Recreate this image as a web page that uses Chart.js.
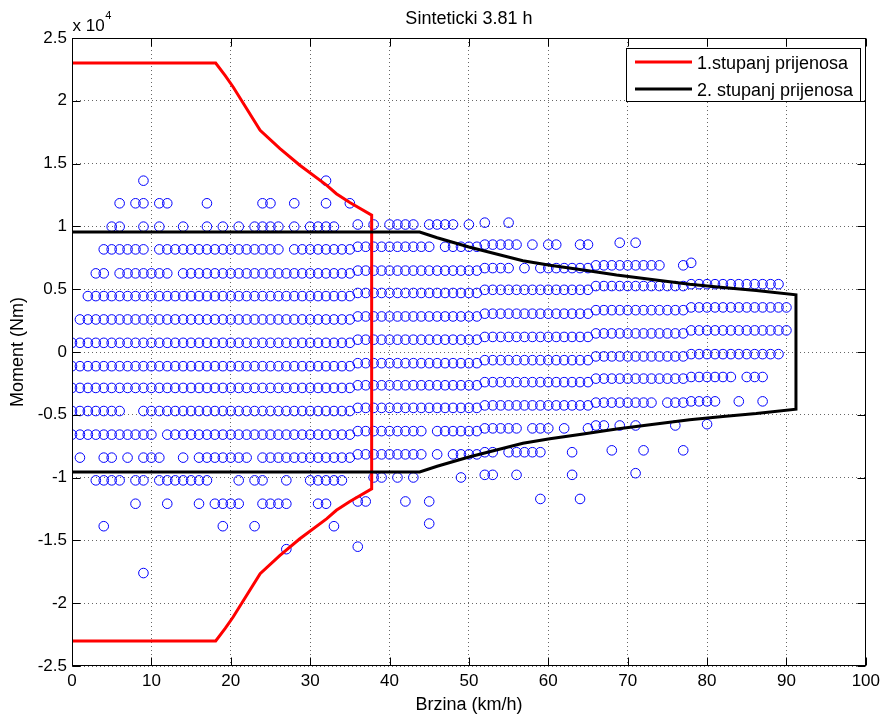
<!DOCTYPE html>
<html>
<head>
<meta charset="utf-8">
<title>Sinteticki 3.81 h</title>
<script src="https://cdn.jsdelivr.net/npm/chart.js@4.4.1/dist/chart.umd.min.js"></script>
<style>
  html, body { margin: 0; padding: 0; background: #fff; }
  #myChart { display: block; }
</style>
</head>
<body>
<canvas id="myChart" width="885" height="718"></canvas>
<script>
const FONT = '"Liberation Sans", Arial, Helvetica, sans-serif';

// measured points: speed (km/h) of every circle, one list per torque row
const rowSpeeds = [
  [9, 32],
  [6, 8, 9, 11, 12, 17, 24, 25, 28, 32, 35],
  [5, 6, 9, 11, 14, 17, 19, 21, 23, 24, 25, 26, 28, 30, 31, 32, 33, 36, 38, 40, 41, 42, 43, 45, 46, 47, 48, 50, 52, 55],
  [4, 5, 6, 7, 8, 9, 11, 12, 13, 14, 15, 16, 17, 18, 19, 20, 21, 22, 23, 24, 25, 26, 28, 29, 30, 31, 32, 33, 34, 35,
   36, 37, 38, 39, 40, 41, 42, 43, 44, 45, 47, 48, 49, 50, 51, 52, 53, 54, 55, 56, 58, 60, 61, 64, 65, 69, 71],
  [3, 4, 6, 7, 8, 9, 10, 11, 12, 14, 15, 16, 17, 18, 19, 20, 21, 22, 23, 24, 25, 26, 27, 28, 29, 30, 31, 32, 33, 34,
   35, 36, 37, 38, 39, 40, 41, 42, 43, 44, 45, 46, 47, 48, 49, 50, 51, 52, 53, 54, 55, 57, 59, 60, 61, 62, 63, 64, 65,
   66, 67, 68, 69, 70, 71, 72, 73, 74, 77, 78],
  [2, 3, 4, 5, 6, 7, 8, 9, 10, 11, 12, 13, 14, 15, 16, 17, 18, 19, 20, 21, 22, 23, 24, 25, 26, 27, 28, 29, 30, 31,
   32, 33, 34, 35, 36, 37, 38, 39, 40, 41, 42, 43, 44, 45, 46, 47, 48, 49, 50, 51, 52, 53, 54, 55, 56, 57, 58, 59, 60,
   61, 62, 63, 64, 65, 66, 67, 68, 69, 70, 71, 72, 73, 74, 75, 76, 77, 78, 79, 80, 81, 82, 83, 84, 85, 86, 87, 88, 89],
  [1, 2, 3, 4, 5, 6, 7, 8, 9, 10, 11, 12, 13, 14, 15, 16, 17, 18, 19, 20, 21, 22, 23, 24, 25, 26, 27, 28, 29, 30,
   31, 32, 33, 34, 35, 36, 37, 38, 39, 40, 41, 42, 43, 44, 45, 46, 47, 48, 49, 50, 51, 52, 53, 54, 55, 56, 57, 58, 59, 60,
   61, 62, 63, 64, 65, 66, 67, 68, 69, 70, 71, 72, 73, 74, 75, 76, 77, 78, 79, 80, 81, 82, 83, 84, 85, 86, 87, 88, 89, 90],
  [0, 1, 2, 3, 4, 5, 6, 7, 8, 9, 10, 11, 12, 13, 14, 15, 16, 17, 18, 19, 20, 21, 22, 23, 24, 25, 26, 27, 28, 29, 30,
   31, 32, 33, 34, 35, 36, 37, 38, 39, 40, 41, 42, 43, 44, 45, 46, 47, 48, 49, 50, 51, 52, 53, 54, 55, 56, 57, 58, 59, 60,
   61, 62, 63, 64, 65, 66, 67, 68, 69, 70, 71, 72, 73, 74, 75, 76, 77, 78, 79, 80, 81, 82, 83, 84, 85, 86, 87, 88, 89, 90],
  [0, 1, 2, 3, 4, 5, 6, 7, 8, 9, 10, 11, 12, 13, 14, 15, 16, 17, 18, 19, 20, 21, 22, 23, 24, 25, 26, 27, 28, 29, 30,
   31, 32, 33, 34, 35, 36, 37, 38, 39, 40, 41, 42, 43, 44, 45, 46, 47, 48, 49, 50, 51, 52, 53, 54, 55, 56, 57, 58, 59, 60,
   61, 62, 63, 64, 65, 66, 67, 68, 69, 70, 71, 72, 73, 74, 75, 76, 77, 78, 79, 80, 81, 82, 83, 84, 85, 86, 87, 88, 89],
  [0, 1, 2, 3, 4, 5, 6, 7, 8, 9, 10, 11, 12, 13, 14, 15, 16, 17, 18, 19, 20, 21, 22, 23, 24, 25, 26, 27, 28, 29, 30,
   31, 32, 33, 34, 35, 36, 37, 38, 39, 40, 41, 42, 43, 44, 45, 46, 47, 48, 49, 50, 51, 52, 53, 54, 55, 56, 57, 58, 59, 60,
   61, 62, 63, 64, 65, 66, 67, 68, 69, 70, 71, 72, 73, 74, 75, 76, 77, 78, 79, 80, 81, 82, 83, 85, 86, 87],
  [0, 1, 2, 3, 4, 5, 6, 9, 10, 11, 12, 13, 14, 15, 16, 17, 18, 19, 20, 21, 22, 23, 24, 25, 26, 27, 28, 29, 30,
   31, 32, 33, 34, 35, 36, 37, 38, 39, 40, 41, 42, 43, 44, 45, 46, 47, 48, 49, 50, 51, 52, 53, 54, 55, 56, 57, 58, 59, 60,
   61, 62, 63, 64, 65, 66, 67, 68, 69, 70, 71, 72, 73, 75, 76, 77, 78, 79, 80, 81, 84, 87],
  [0, 1, 2, 3, 4, 5, 6, 7, 8, 9, 10, 12, 13, 14, 15, 16, 17, 18, 19, 20, 21, 22, 23, 24, 25, 26, 27, 28, 29, 30,
   31, 32, 33, 34, 35, 36, 37, 38, 39, 40, 41, 42, 43, 44, 46, 47, 48, 49, 50, 51, 52, 53, 54, 55, 56,
   58, 59, 60, 62, 65, 66, 67, 69, 71, 76, 80],
  [1, 4, 5, 7, 9, 10, 11, 14, 16, 17, 18, 19, 20, 21, 22, 24, 25, 26, 27, 28, 29, 30, 31, 32, 33, 34, 35, 36, 37, 38,
   39, 40, 41, 42, 43, 44, 46, 48, 49, 50, 51, 52, 53, 55, 56, 57, 58, 59, 63, 68, 72, 77],
  [3, 4, 5, 6, 8, 9, 11, 12, 13, 14, 15, 16, 17, 21, 23, 24, 27, 30, 31, 32, 33, 34, 38, 39, 41, 43, 49, 52, 53, 56, 63, 71],
  [8, 12, 16, 18, 19, 20, 21, 24, 25, 26, 27, 31, 32, 36, 37, 42, 45, 59, 64],
  [4, 19, 23, 33, 45],
  [27, 36],
  [9]
];

// torque level (Nm) of each row, read in speed bands (rows rise slightly with speed)
const levelBandStart = [0, 36, 52, 66, 78];
const rowLevels = [
  [13640, 13640, 13640, 13640, 13640],
  [11840, 11840, 11840, 11840, 11840],
  [9980, 10150, 10300, 10450, 10600],
  [8170, 8380, 8550, 8700, 8900],
  [6260, 6480, 6680, 6900, 7100],
  [4450, 4700, 4950, 5250, 5400],
  [2590, 2830, 3050, 3330, 3550],
  [730, 980, 1200, 1480, 1720],
  [-1130, -890, -650, -350, -170],
  [-2860, -2650, -2400, -2120, -1990],
  [-4700, -4450, -4250, -4030, -3930],
  [-6580, -6300, -6080, -5850, -5750],
  [-8410, -8150, -7980, -7830, -7700],
  [-10220, -9990, -9780, -9650, -9500],
  [-12080, -11900, -11700, -11500, -11400],
  [-13870, -13660, -13500, -13400, -13300],
  [-15700, -15500, -15400, -15300, -15200],
  [-17600, -17400, -17300, -17200, -17100]
];

// 1st gear envelope
const gear1Speed = [0, 18.1, 19.3, 20.3, 23.7, 26.2, 28.7, 32.1, 33.3, 35, 37.75,
                    37.75, 35, 33.3, 32.1, 28.7, 26.2, 23.7, 20.3, 19.3, 18.1, 0];
const gear1Torque = [23000, 23000, 22000, 21100, 17650, 16200, 14870, 13270, 12600, 11900, 10900,
                     -10900, -11900, -12600, -13270, -14870, -16200, -17650, -21100, -22000, -23000, -23000];

// 2nd gear envelope
const gear2Speed = [0, 43.8, 46, 50, 56.8, 60.2, 64.4, 68.6, 72.8, 77.8, 82, 86.2, 91.2,
                    91.2, 86.2, 82, 77.8, 72.8, 68.6, 64.4, 60.2, 56.8, 50, 46, 43.8, 0];
const gear2Torque = [9550, 9550, 9100, 8360, 7270, 6900, 6520, 6130, 5800, 5400, 5130, 4900, 4550,
                     -4550, -4900, -5130, -5400, -5800, -6130, -6520, -6900, -7270, -8360, -9100, -9550, -9550];

const seriesLabels = ['1.stupanj prijenosa', '2. stupanj prijenosa'];

const points = [];
rowSpeeds.forEach((speeds, r) => {
  speeds.forEach(v => {
    let b = 0;
    while (b + 1 < levelBandStart.length && v >= levelBandStart[b + 1]) b++;
    points.push({ x: v, y: rowLevels[r][b] });
  });
});

const toXY = (xs, ys) => xs.map((x, i) => ({ x: x, y: ys[i] }));

// MATLAB-like frame, inner ticks, title, exponent and legend
const matlabFrame = {
  id: 'matlabFrame',
  afterDraw(chart) {
    const ctx = chart.ctx;
    const a = chart.chartArea;
    const xs = chart.scales.x, ys = chart.scales.y;
    const L = Math.round(a.left) + 0.5, R = Math.round(a.right) - 0.5;
    const T = Math.round(a.top) + 0.5, B = Math.round(a.bottom) - 0.5;
    ctx.save();
    ctx.strokeStyle = '#000';
    ctx.lineWidth = 1;
    ctx.strokeRect(L, T, R - L, B - T);
    const tl = 8;
    ctx.beginPath();
    xs.ticks.forEach(t => {
      const p = Math.round(xs.getPixelForValue(t.value)) + 0.5;
      ctx.moveTo(p, B); ctx.lineTo(p, B - tl);
      ctx.moveTo(p, T); ctx.lineTo(p, T + tl);
    });
    ys.ticks.forEach(t => {
      const p = Math.round(ys.getPixelForValue(t.value)) + 0.5;
      ctx.moveTo(L, p); ctx.lineTo(L + tl, p);
      ctx.moveTo(R, p); ctx.lineTo(R - tl, p);
    });
    ctx.stroke();

    ctx.fillStyle = '#000';
    ctx.textBaseline = 'alphabetic';
    ctx.textAlign = 'center';
    ctx.font = '18px ' + FONT;
    ctx.fillText('Sinteticki 3.81 h', (a.left + a.right) / 2, 23.5);

    ctx.textAlign = 'left';
    ctx.font = '17px ' + FONT;
    ctx.fillText('x 10', a.left + 0.5, 30.5);
    const w = ctx.measureText('x 10').width;
    ctx.font = '11px ' + FONT;
    ctx.fillText('4', a.left + 1 + w, 18.5);

    // legend
    const bx = 626.5, by = 48.5, bw = 234, bh = 53;
    ctx.fillStyle = '#fff';
    ctx.fillRect(bx, by, bw, bh);
    ctx.strokeStyle = '#000';
    ctx.lineWidth = 1;
    ctx.strokeRect(bx, by, bw, bh);
    const rows = [62, 89];
    [1, 2].forEach((di, i) => {
      const ds = chart.data.datasets[di];
      ctx.strokeStyle = ds.borderColor;
      ctx.lineWidth = 3;
      ctx.beginPath();
      ctx.moveTo(635, rows[i]);
      ctx.lineTo(692, rows[i]);
      ctx.stroke();
      ctx.fillStyle = '#000';
      ctx.font = '18px ' + FONT;
      ctx.textBaseline = 'middle';
      ctx.fillText(ds.label, 697, rows[i] + 2);
    });
    ctx.restore();
  }
};

const ctx = document.getElementById('myChart');

new Chart(ctx, {
  type: 'scatter',
  data: {
    datasets: [
      {
        label: 'mjerenja',
        data: points,
        pointStyle: 'circle',
        pointRadius: 4.8,
        pointBorderWidth: 1,
        borderColor: '#0000ff',
        backgroundColor: 'rgba(0,0,0,0)',
        order: 2
      },
      {
        label: seriesLabels[0],
        data: toXY(gear1Speed, gear1Torque),
        showLine: true,
        borderColor: '#ff0000',
        backgroundColor: '#ff0000',
        borderWidth: 3,
        pointRadius: 0,
        tension: 0,
        order: 1
      },
      {
        label: seriesLabels[1],
        data: toXY(gear2Speed, gear2Torque),
        showLine: true,
        borderColor: '#000000',
        backgroundColor: '#000000',
        borderWidth: 3,
        pointRadius: 0,
        tension: 0,
        order: 0
      }
    ]
  },
  options: {
    responsive: false,
    animation: false,
    devicePixelRatio: 1,
    events: [],
    layout: { padding: { top: 38, right: 19, left: 0, bottom: 0 } },
    scales: {
      x: {
        type: 'linear',
        min: 0,
        max: 100,
        afterFit: s => { s.height = 52; },
        ticks: { stepSize: 10, color: '#000', padding: 5, font: { size: 17, family: FONT } },
        grid: { color: 'rgba(0,0,0,0.6)', drawTicks: false, lineWidth: 1 },
        border: { display: false, dash: [1, 3] },
        title: { display: true, text: 'Brzina (km/h)', color: '#000', font: { size: 18, family: FONT }, padding: { top: 0, bottom: 2 } }
      },
      y: {
        type: 'linear',
        min: -25000,
        max: 25000,
        afterFit: s => { s.width = 72; },
        ticks: { stepSize: 5000, color: '#000', padding: 5, font: { size: 17, family: FONT },
                 callback: v => String(v / 10000) },
        grid: { color: 'rgba(0,0,0,0.6)', drawTicks: false, lineWidth: 1 },
        border: { display: false, dash: [1, 3] },
        title: { display: true, text: 'Moment (Nm)', color: '#000', font: { size: 18, family: FONT }, padding: { top: 7, bottom: 0 } }
      }
    },
    plugins: {
      legend: { display: false },
      title: { display: false },
      tooltip: { enabled: false }
    }
  },
  plugins: [matlabFrame]
});
</script>
</body>
</html>
